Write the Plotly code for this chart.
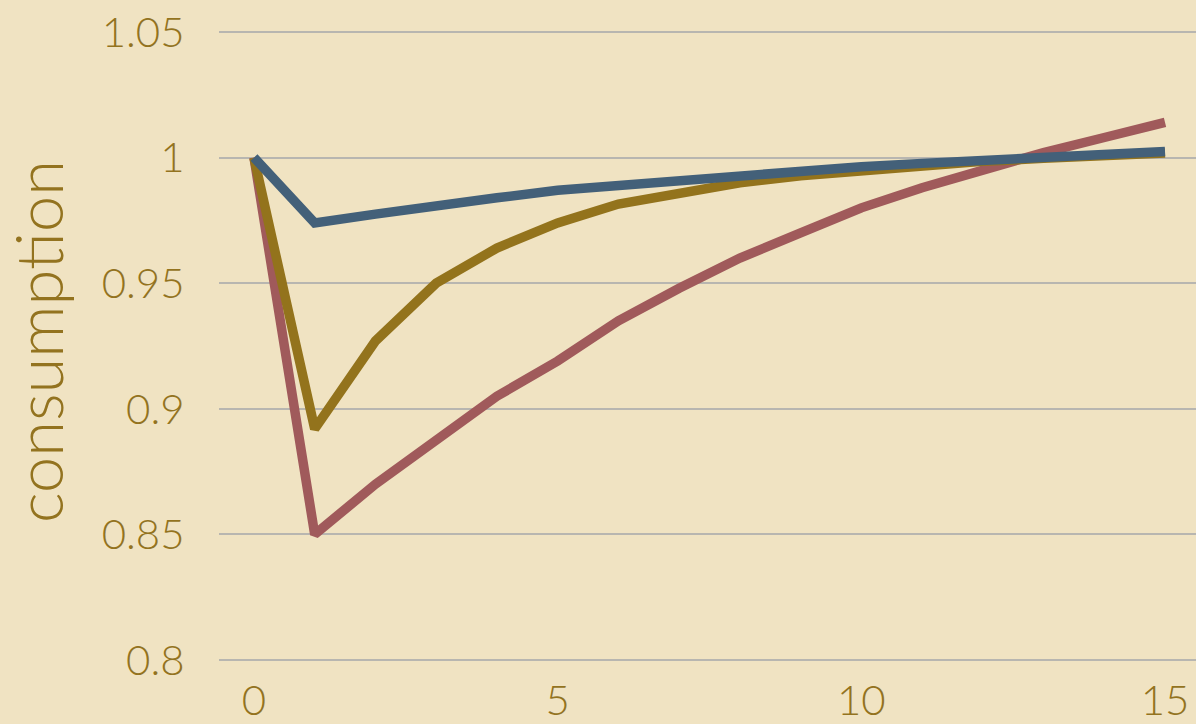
import plotly.graph_objects as go

periods = list(range(16))
red_series = [1.0, 0.850, 0.870, 0.888, 0.905, 0.919, 0.935, 0.948, 0.960, 0.970,
              0.980, 0.988, 0.995, 1.002, 1.008, 1.014]
gold_series = [1.0, 0.892, 0.927, 0.950, 0.964, 0.974, 0.9815, 0.986, 0.990, 0.9928,
               0.995, 0.997, 0.9985, 0.9997, 1.0008, 1.0018]
blue_series = [1.0, 0.974, 0.9775, 0.981, 0.984, 0.987, 0.9890, 0.9912, 0.9932, 0.9949,
               0.9964, 0.9977, 0.9989, 1.0000, 1.0012, 1.0024]

y_ticks = [0.8, 0.85, 0.9, 0.95, 1.0, 1.05]
y_tick_labels = ["0.8", "0.85", "0.9", "0.95", "1", "1.05"]
x_ticks = [0, 5, 10, 15]
y_title = "consumption"

TEXT = "#93731f"
BG = "#f0e3c2"

fig = go.Figure()
for ys, col in [(red_series, "#a05a5b"), (gold_series, "#93731c"), (blue_series, "#436079")]:
    fig.add_trace(go.Scatter(x=periods, y=ys, mode="lines",
                             line=dict(color=col, width=9.5),
                             hoverinfo="skip", showlegend=False, cliponaxis=False))

font = dict(family="Lato, 'Helvetica Neue', sans-serif", size=42, color=TEXT, weight=300)

fig.update_layout(
    width=1196, height=724,
    margin=dict(l=219, r=0, t=10, b=62, autoexpand=False),
    paper_bgcolor=BG, plot_bgcolor=BG,
    showlegend=False,
    font=font,
    xaxis=dict(range=[-0.576, 15.51], tickvals=x_ticks, showgrid=False, zeroline=False,
               showline=False, ticks="outside", ticklen=2, tickcolor="rgba(0,0,0,0)",
               tickfont=font, automargin=False),
    yaxis=dict(range=[0.79920, 1.05876], tickvals=y_ticks, ticktext=y_tick_labels,
               showgrid=True, gridcolor="#b8b6b0", gridwidth=2, zeroline=False,
               showline=False, ticks="outside", ticklen=25, tickcolor="rgba(0,0,0,0)",
               tickfont=font, automargin=False),
    annotations=[dict(text=y_title, xref="paper", yref="paper",
                      x=-0.185, y=0.491, xanchor="center", yanchor="middle",
                      textangle=-90, showarrow=False,
                      font=dict(family="Lato, 'Helvetica Neue', sans-serif", size=65,
                                color=TEXT, weight=300))],
)

fig.write_html("out.html")
